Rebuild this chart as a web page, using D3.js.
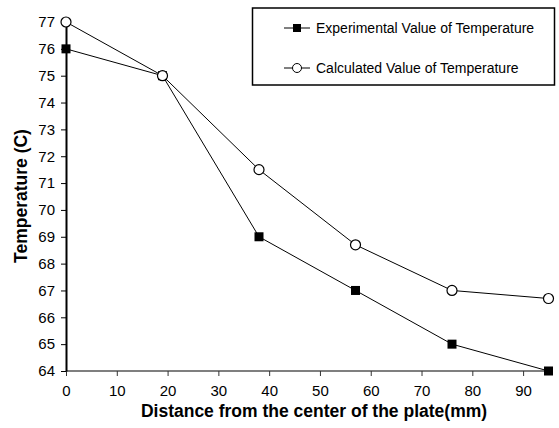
<!DOCTYPE html>
<html><head><meta charset="utf-8">
<script src="https://cdn.jsdelivr.net/npm/d3@7/dist/d3.min.js"></script>
<style>body{margin:0;background:#fff}svg{display:block}text{font-family:"Liberation Sans",Arial,sans-serif}</style>
</head><body><svg id="c" width="559" height="428"></svg>
<script>
const distances = [0, 19, 38, 57, 76, 95];
const experimental = [76, 75, 69, 67, 65, 64];
const calculated = [77, 75, 71.5, 68.7, 67, 66.7];
const xTicks = [0, 10, 20, 30, 40, 50, 60, 70, 80, 90];
const yTicks = [64, 65, 66, 67, 68, 69, 70, 71, 72, 73, 74, 75, 76, 77];
const seriesNames = ["Experimental Value of Temperature", "Calculated Value of Temperature"];

const svg = d3.select("#c");
const x = d3.scaleLinear().domain([0, 95]).range([66, 548.5]);
const y = d3.scaleLinear().domain([64, 77]).range([371, 22]);

// x axis
const xa = svg.append("g").attr("transform", "translate(0,371)")
  .call(d3.axisBottom(x).tickValues(xTicks).tickSize(5).tickPadding(9).tickSizeOuter(0));
xa.select(".domain").attr("stroke", "#555").attr("stroke-width", 1.5).attr("d", "M66,0H553");
xa.selectAll("line").attr("stroke", "#333");
xa.selectAll("text").attr("font-size", 15).attr("fill", "#000");

// y axis
const ya = svg.append("g").attr("transform", "translate(66,0)")
  .call(d3.axisLeft(y).tickValues(yTicks).tickSize(5).tickPadding(6).tickSizeOuter(0));
ya.select(".domain").attr("stroke", "#000").attr("stroke-width", 2);
ya.selectAll("line").attr("stroke", "#000");
ya.selectAll("text").attr("font-size", 15).attr("fill", "#000");

// titles
svg.append("text").attr("x", 314).attr("y", 417).attr("text-anchor", "middle")
  .attr("font-size", 17.5).attr("font-weight", "bold").text("Distance from the center of the plate(mm)");
svg.append("text").attr("transform", "translate(27,196) rotate(-90)").attr("text-anchor", "middle")
  .attr("font-size", 17.5).attr("font-weight", "bold").text("Temperature (C)");

const line = d3.line().x((d, i) => x(distances[i])).y(d => y(d));
svg.append("path").datum(experimental).attr("d", line).attr("fill", "none").attr("stroke", "#000").attr("stroke-width", 1);
svg.append("path").datum(calculated).attr("d", line).attr("fill", "none").attr("stroke", "#000").attr("stroke-width", 1);

svg.selectAll(".sq").data(experimental).enter().append("rect")
  .attr("x", (d, i) => x(distances[i]) - 4.5).attr("y", d => y(d) - 4.5)
  .attr("width", 9).attr("height", 9).attr("fill", "#000");
svg.selectAll(".ci").data(calculated).enter().append("circle")
  .attr("cx", (d, i) => x(distances[i])).attr("cy", d => y(d)).attr("r", 5)
  .attr("fill", "#fff").attr("stroke", "#000").attr("stroke-width", 1.2);

// legend
const lg = svg.append("g");
lg.append("rect").attr("x", 252.5).attr("y", 8).attr("width", 302).attr("height", 77)
  .attr("fill", "#fff").attr("stroke", "#000").attr("stroke-width", 1.5);
[28, 68].forEach((ly, i) => {
  lg.append("line").attr("x1", 284).attr("x2", 310).attr("y1", ly).attr("y2", ly).attr("stroke", "#000");
  if (i === 0) lg.append("rect").attr("x", 293).attr("y", ly - 4).attr("width", 8).attr("height", 8).attr("fill", "#000");
  else lg.append("circle").attr("cx", 297).attr("cy", ly).attr("r", 4.5).attr("fill", "#fff").attr("stroke", "#000");
  lg.append("text").attr("x", 316).attr("y", ly + 5).attr("font-size", 14).text(seriesNames[i]);
});
</script></body></html>
